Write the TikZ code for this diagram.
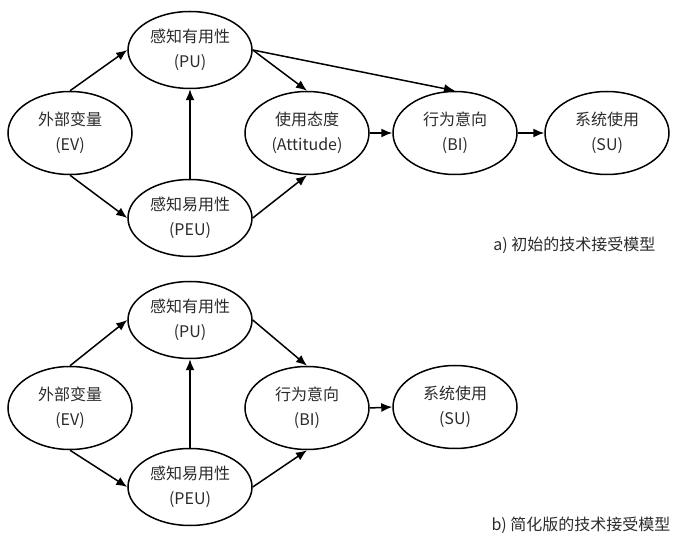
\documentclass[tikz,border=0pt]{standalone}
\usepackage{fontspec}
\setmainfont{Noto Sans CJK SC}
\usetikzlibrary{shapes.geometric,arrows.meta}
\definecolor{txt}{HTML}{2B2B2B}
\tikzset{
  oval/.style={ellipse,draw=black,line width=1.5pt,minimum width=124pt,minimum height=83pt,inner sep=0pt,align=center,text=txt,font=\fontsize{16}{25}\selectfont},
  arr/.style={line width=1.5pt,-{Latex[length=11pt,width=9pt]}},
  captext/.style={text=txt,font=\fontsize{16}{20}\selectfont,anchor=east}
}
\begin{document}
\begin{tikzpicture}[x=1pt,y=-1pt]
\useasboundingbox (0,0) rectangle (678,537);
% a) original TAM
\node[oval] (EV) at (70,133) {外部变量\\(EV)};
\node[oval,minimum height=77pt] (PU) at (190,50) {感知有用性\\(PU)};
\node[oval,minimum height=77pt] (PEU) at (190,218) {感知易用性\\(PEU)};
\node[oval] (ATT) at (307,133) {使用态度\\(Attitude)};
\node[oval] (BI) at (455,133) {行为意向\\(BI)};
\node[oval] (SU) at (607,133) {系统使用\\(SU)};
\node[captext] (capA) at (659,245) {a) 初始的技术接受模型};
\draw[arr] (EV.north) -- (PU.west);
\draw[arr] (EV.south) -- (PEU.west);
\draw[arr] (PEU.north) -- (PU.south);
\draw[arr] (PU.east) -- (ATT.north);
\draw[arr] (PU.east) -- (BI.north);
\draw[arr] (PEU.east) -- (ATT.south);
\draw[arr] (ATT.east) -- (BI.west);
\draw[arr] (BI.east) -- (SU.west);
% b) simplified TAM
\node[oval] (EV2) at (70,408) {外部变量\\(EV)};
\node[oval,minimum height=77pt] (PU2) at (190,320) {感知有用性\\(PU)};
\node[oval,minimum height=77pt] (PEU2) at (190,487) {感知易用性\\(PEU)};
\node[oval] (BI2) at (307,408) {行为意向\\(BI)};
\node[oval] (SU2) at (455,407) {系统使用\\(SU)};
\node[captext] (capB) at (674,525) {b) 简化版的技术接受模型};
\draw[arr] (EV2.north) -- (PU2.west);
\draw[arr] (EV2.south) -- (PEU2.west);
\draw[arr] (PEU2.north) -- (PU2.south);
\draw[arr] (PU2.east) -- (BI2.north);
\draw[arr] (PEU2.east) -- (BI2.south);
\draw[arr] (BI2.east) -- (SU2.west);
\end{tikzpicture}
\end{document}
